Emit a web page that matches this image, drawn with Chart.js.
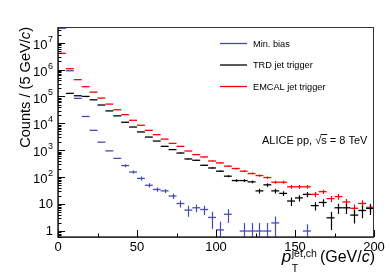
<!DOCTYPE html>
<html>
<head>
<meta charset="utf-8">
<script src="https://cdn.jsdelivr.net/npm/chart.js@4.4.1/dist/chart.umd.min.js"></script>
<style>
  html, body { margin: 0; padding: 0; background: #fff; }
  #wrap { position: relative; width: 390px; height: 280px; }
</style>
</head>
<body>
<div id="wrap"><canvas id="spectrum"></canvas></div>
<script>
/* eslint-disable*/

// 5 GeV/c bins, 0 - 200
const BIN_WIDTH = 5;
const binCenters = [
  2.5, 7.5, 12.5, 17.5, 22.5, 27.5, 32.5, 37.5, 42.5, 47.5,
  52.5, 57.5, 62.5, 67.5, 72.5, 77.5, 82.5, 87.5, 92.5, 97.5,
  102.5, 107.5, 112.5, 117.5, 122.5, 127.5, 132.5, 137.5, 142.5, 147.5,
  152.5, 157.5, 162.5, 167.5, 172.5, 177.5, 182.5, 187.5, 192.5, 197.5,
];

const seriesNames = ['Min. bias', 'TRD jet trigger', 'EMCAL jet trigger'];
const seriesColors = ['#4848b8', '#000000', '#ff0000'];

const minBias = [
  3.4e7, 9.0e5, 8.5e4, 1.8e4, 5.5e3, 2.0e3, 950, 500, 270, 155,
  90, 50, 35, 31, 20, 10.5, 6, 7.3, 6.3, 3.2,
  1.1, 4.2, null, 1, 1, 1, 1, 2, null, null,
  null, 1, null, null, null, null, null, null, null, null,
];
const minBiasErr = [
  0, 0, 0, 0, 0, 0, 0, 0, 35, 22,
  15, 9, 6, 5, 4.5, 3, 2.6, 2.3, 2.4, 2,
  1.1, 2.2, 0, 1, 1, 1, 1, 1.5, 0, 0,
  0, 0.8, 0, 0, 0, 0, 0, 0, 0, 0,
];

const trdTrigger = [
  null, 1.3e5, 1.06e5, 1.0e5, 7.5e4, 4.8e4, 2.9e4, 1.9e4, 1.1e4, 7.3e3,
  4.8e3, 3.1e3, 2.2e3, 1.4e3, 1.06e3, 790, 475, 425, 277, 220,
  167, 109, 75, 75, 67, 31, 52, 31, 25, 13,
  17, 23, 8.8, 11.5, 3.1, 7.3, 7.3, 3.9, 5.8, 6.9,
];
const trdTriggerErr = [
  0, 0, 0, 0, 0, 0, 0, 0, 0, 0,
  0, 0, 0, 40, 35, 28, 20, 20, 16, 14,
  10, 9, 8, 8, 8, 6, 8, 6, 5, 4.5,
  4.5, 5, 3, 3.5, 2, 3, 3, 2, 2.8, 3,
];

const emcalTrigger = [
  4.0e6, 1.07e6, 4.2e5, 2.3e5, 1.44e5, 8.7e4, 5.2e4, 3.2e4, 2.1e4, 1.3e4,
  8.5e3, 5.5e3, 3.8e3, 2.6e3, 1.8e3, 1.4e3, 940, 690, 565, 400,
  340, 257, 210, 167, 137, 115, 97, 65, 65, 44,
  44, 44, 23, 29, 16, 19, 12, 7, 10.6, 7.6,
];
const emcalTriggerErr = [
  0, 0, 0, 0, 0, 0, 0, 0, 0, 0,
  0, 0, 0, 0, 0, 0, 0, 0, 25, 20,
  20, 17, 15, 13, 12, 11, 10, 8, 8, 7,
  7, 7, 5, 5.5, 4, 4.5, 3.5, 2.6, 3.2, 2.7,
];

const xTickStep = 50;
const yTickValues = [1, 10, 100, 1e3, 1e4, 1e5, 1e6, 1e7];
const yTickLabels = ['1', '10', '10^2', '10^3', '10^4', '10^5', '10^6', '10^7'];

const FONT = '"Liberation Sans", Arial, Helvetica, sans-serif';

function toPoints(values, errors) {
  const pts = [];
  values.forEach((v, i) => {
    if (v === null) return;
    pts.push({ x: binCenters[i], y: v, err: errors[i] });
  });
  return pts;
}

function halfBin(ctx) {
  const xs = ctx.chart.scales.x;
  return (xs.getPixelForValue(BIN_WIDTH) - xs.getPixelForValue(0)) / 2;
}

function makeDataset(i, values, errors, order) {
  return {
    label: seriesNames[i],
    data: toPoints(values, errors),
    showLine: false,
    pointStyle: 'line',
    pointRadius: halfBin,
    pointHoverRadius: halfBin,
    pointBorderWidth: 1.3,
    borderColor: seriesColors[i],
    backgroundColor: seriesColors[i],
    order: order,
  };
}

// error bars, frame, inner ticks, labels, legend and titles
const rootStyle = {
  id: 'rootStyle',
  afterDatasetsDraw(chart) {
    const { ctx, chartArea: a, scales: { x, y } } = chart;
    ctx.save();
    ctx.beginPath();
    ctx.rect(a.left, a.top, a.right - a.left, a.bottom - a.top);
    ctx.clip();
    // draw in the same order as the marks (blue first, red on top)
    chart.data.datasets.slice().reverse().forEach((ds) => {
      ctx.beginPath();
      ctx.strokeStyle = ds.borderColor;
      ctx.lineWidth = 1.2;
      ds.data.forEach((pt) => {
        if (!pt.err) return;
        const px = Math.round(x.getPixelForValue(pt.x)) + 0.5;
        const hi = y.getPixelForValue(pt.y + pt.err);
        const lo = pt.y - pt.err > 0 ? y.getPixelForValue(pt.y - pt.err) : a.bottom + 5;
        ctx.moveTo(px, hi);
        ctx.lineTo(px, lo);
      });
      ctx.stroke();
    });
    ctx.restore();
  },
  afterDraw(chart) {
    const { ctx, chartArea: a, scales: { x, y } } = chart;
    ctx.save();

    // frame
    ctx.strokeStyle = '#333';
    ctx.lineWidth = 1;
    ctx.strokeRect(a.left + 0.5, a.top + 0.5, a.right - a.left - 1, a.bottom - a.top);
    ctx.lineWidth = 1.6;
    ctx.beginPath();
    ctx.moveTo(a.left, a.top);
    ctx.lineTo(a.left, a.bottom);
    ctx.lineTo(a.right, a.bottom);
    ctx.stroke();

    // x ticks (inside)
    ctx.strokeStyle = '#000';
    ctx.lineWidth = 1;
    ctx.beginPath();
    for (let v = 0; v <= x.max; v += xTickStep / 2) {
      const px = Math.round(x.getPixelForValue(v)) + 0.5;
      const len = v % xTickStep === 0 ? 7 : 3.5;
      ctx.moveTo(px, a.bottom);
      ctx.lineTo(px, a.bottom - len);
    }
    // y ticks (inside, major + minor)
    for (let e = -1; e <= 7; e++) {
      for (let m = 1; m <= 9; m++) {
        const v = m * Math.pow(10, e);
        if (v < y.min || v > y.max) continue;
        const py = Math.round(y.getPixelForValue(v)) + 0.5;
        const len = m === 1 ? 7 : 3.5;
        ctx.moveTo(a.left, py);
        ctx.lineTo(a.left + len, py);
      }
    }
    ctx.stroke();

    // y tick labels with superscripts
    ctx.fillStyle = '#000';
    ctx.textBaseline = 'middle';
    ctx.textAlign = 'left';
    yTickValues.forEach((v, i) => {
      const py = y.getPixelForValue(v);
      const parts = yTickLabels[i].split('^');
      const right = a.left - 5;
      ctx.font = '13px ' + FONT;
      const wBase = ctx.measureText(parts[0]).width;
      if (parts.length === 1) {
        ctx.fillText(parts[0], right - wBase, py + 0.5);
        return;
      }
      ctx.font = '9px ' + FONT;
      const wExp = ctx.measureText(parts[1]).width;
      ctx.fillText(parts[1], right - wExp, py - 3.5);
      ctx.font = '13px ' + FONT;
      ctx.fillText(parts[0], right - wExp - wBase - 0.5, py + 2.5);
    });

    // legend
    const legendY = [43.5, 65, 86.5];
    seriesNames.forEach((name, i) => {
      ctx.strokeStyle = seriesColors[i];
      ctx.lineWidth = 1.3;
      ctx.beginPath();
      ctx.moveTo(220, legendY[i]);
      ctx.lineTo(247, legendY[i]);
      ctx.stroke();
      ctx.fillStyle = '#000';
      ctx.font = '9.2px ' + FONT;
      ctx.textBaseline = 'middle';
      ctx.fillText(name, 253, legendY[i] + 0.5);
    });

    // ALICE pp, sqrt(s) = 8 TeV
    ctx.textBaseline = 'alphabetic';
    ctx.font = '11px ' + FONT;
    let tx = 262;
    const ty = 143.5;
    const t1 = 'ALICE pp, ';
    ctx.fillText(t1, tx, ty);
    tx += ctx.measureText(t1).width;
    ctx.fillText('\u221A', tx, ty);
    tx += ctx.measureText('\u221A').width;
    const wS = ctx.measureText('s').width;
    ctx.fillText('s', tx, ty);
    ctx.lineWidth = 0.9;
    ctx.strokeStyle = '#000';
    ctx.beginPath();
    ctx.moveTo(tx - 0.5, ty - 9);
    ctx.lineTo(tx + wS + 0.5, ty - 9);
    ctx.stroke();
    tx += wS;
    ctx.fillText(' = 8 TeV', tx, ty);

    // x title: p_T^{jet,ch} (GeV/c), right aligned to the axis end
    ctx.font = 'italic 17px ' + FONT;
    const wP = ctx.measureText('p').width + 0.5;
    ctx.font = '10.5px ' + FONT;
    const wScr = ctx.measureText('jet,ch').width + 3;
    ctx.font = '16px ' + FONT;
    const wUnitA = ctx.measureText('(GeV/').width;
    const wUnitC = ctx.measureText(')').width;
    ctx.font = 'italic 16px ' + FONT;
    const wUnitB = ctx.measureText('c').width;
    let px = 375 - (wP + wScr + wUnitA + wUnitB + wUnitC);
    ctx.font = 'italic 17px ' + FONT;
    ctx.fillText('p', px, 262);
    px += wP;
    ctx.font = '10.5px ' + FONT;
    ctx.fillText('T', px, 272);
    ctx.fillText('jet,ch', px, 257);
    px += wScr;
    ctx.font = '16px ' + FONT;
    ctx.fillText('(GeV/', px, 262);
    px += wUnitA;
    ctx.font = 'italic 16px ' + FONT;
    ctx.fillText('c', px, 262);
    px += wUnitB;
    ctx.font = '16px ' + FONT;
    ctx.fillText(')', px, 262);

    // y title: Counts / (5 GeV/c), right aligned to top of axis
    ctx.save();
    ctx.translate(30, a.top);
    ctx.rotate(-Math.PI / 2);
    ctx.font = '14.6px ' + FONT;
    const ya = 'Counts / (5 GeV/';
    const yb = 'c';
    const yc = ')';
    const wa = ctx.measureText(ya).width;
    const wc = ctx.measureText(yc).width;
    ctx.font = 'italic 14.6px ' + FONT;
    const wb = ctx.measureText(yb).width;
    let sx = -(wa + wb + wc);
    ctx.font = '14.6px ' + FONT;
    ctx.fillText(ya, sx, 0);
    sx += wa;
    ctx.font = 'italic 14.6px ' + FONT;
    ctx.fillText(yb, sx, 0);
    sx += wb;
    ctx.font = '14.6px ' + FONT;
    ctx.fillText(yc, sx, 0);
    ctx.restore();

    ctx.restore();
  },
};

const ctx = document.getElementById('spectrum');

const spectrumChart = new Chart(ctx, {
  type: 'scatter',
  data: {
    datasets: [
      makeDataset(0, minBias, minBiasErr, 3),
      makeDataset(1, trdTrigger, trdTriggerErr, 2),
      makeDataset(2, emcalTrigger, emcalTriggerErr, 1),
    ],
  },
  options: {
    responsive: true,
    maintainAspectRatio: false,
    animation: false,
    layout: { padding: { left: 0, right: 16, top: 27, bottom: 0 } },
    plugins: {
      legend: { display: false },
      tooltip: { enabled: false },
    },
    scales: {
      x: {
        type: 'linear',
        min: 0,
        max: 200,
        grid: { display: false, drawTicks: false },
        border: { display: false },
        ticks: {
          stepSize: xTickStep,
          padding: 3,
          maxRotation: 0,
          color: '#000',
          font: { family: FONT, size: 13 },
        },
        afterFit: (scale) => { scale.height = 43; },
      },
      y: {
        type: 'logarithmic',
        min: 0.6,
        max: 3.8e7,
        grid: { display: false, drawTicks: false },
        border: { display: false },
        ticks: { display: false },
        afterFit: (scale) => { scale.width = 58; },
      },
    },
  },
  plugins: [rootStyle],
});
</script>
</body>
</html>
